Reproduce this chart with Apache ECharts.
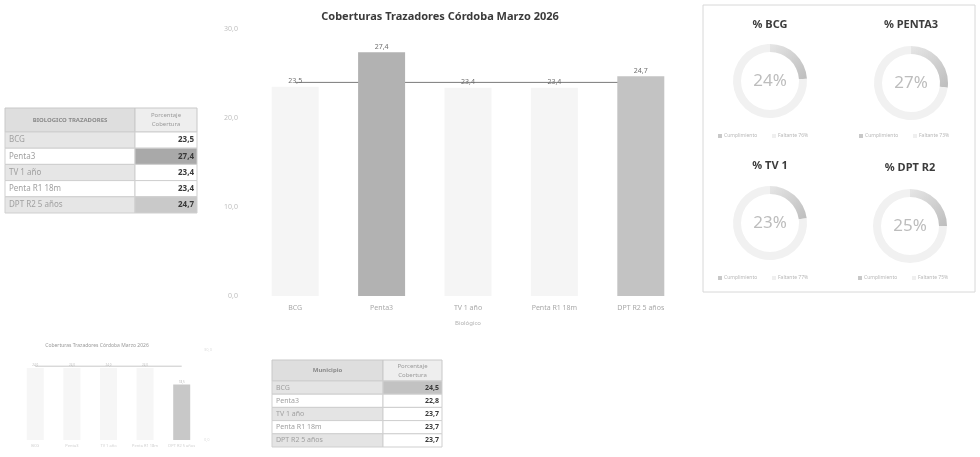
<!DOCTYPE html>
<html><head><meta charset="utf-8">
<script src="https://cdn.jsdelivr.net/npm/echarts@6/dist/echarts.min.js"></script>
<style>html,body{margin:0;padding:0;background:#fff}#c{width:980px;height:457px}</style>
</head><body><div id="c"></div>
<script>
// ---- data ----
const categories = ['BCG', 'Penta3', 'TV 1 año', 'Penta R1 18m', 'DPT R2 5 años'];
const coverage = [23.5, 27.4, 23.4, 23.4, 24.7];
const referenceLine = [24.0, 24.0, 24.0, 24.0, 24.0];
const gaugeTitles = ['% BCG', '% PENTA3', '% TV 1', '% DPT R2'];
const gaugeValues = [24, 27, 23, 25];
const gaugeLegend = ['Cumplimiento', 'Faltante'];
const miniValues = [24.0, 24.0, 24.0, 24.0, 18.5];
const miniLine = [24.6, 24.6, 24.6, 24.6, 24.6];
const table1Header = ['BIOLOGICO TRAZADORES', 'Porcentaje\nCobertura'];
const table2Header = ['Municipio', 'Porcentaje\nCobertura'];
const municipioValues = [24.5, 22.8, 23.7, 23.7, 23.7];
const mainTitle = 'Coberturas Trazadores Córdoba Marzo 2026';
const miniTitle = 'Coberturas Trazadores Córdoba Marzo 2026';
const axisName = 'Biológico';

// ---- helpers ----
const FONT = 'Noto Sans';
const fmt = v => v.toFixed(1).replace('.', ',');

function buildTable(x0, xs, x1, y0, hh, rh, header, labels, values, labelBg, valueBg, fs) {
  const els = [];
  els.push({type:'rect', shape:{x:x0, y:y0, width:xs-x0, height:hh}, style:{fill:'#dedede', stroke:'#c8c8c8', lineWidth:1}});
  els.push({type:'rect', shape:{x:xs, y:y0, width:x1-xs, height:hh}, style:{fill:'#eeeeee', stroke:'#c8c8c8', lineWidth:1}});
  els.push({type:'text', x:(x0+xs)/2, y:y0+hh/2, style:{text:header[0], fill:'#8a8a8a', font:'bold 6px '+FONT, align:'center', verticalAlign:'middle'}});
  els.push({type:'text', x:(xs+x1)/2, y:y0+hh/2, style:{text:header[1], fill:'#9a9a9a', font:'6px '+FONT, align:'center', verticalAlign:'middle', lineHeight:9}});
  labels.forEach((lab, i) => {
    const y = y0 + hh + i*rh;
    els.push({type:'rect', shape:{x:x0, y:y, width:xs-x0, height:rh}, style:{fill:labelBg(i), stroke:'#cfcfcf', lineWidth:1}});
    els.push({type:'rect', shape:{x:xs, y:y, width:x1-xs, height:rh}, style:{fill:valueBg(i), stroke:'#cfcfcf', lineWidth:1}});
    els.push({type:'text', x:x0+4, y:y+rh/2, style:{text:lab, fill:'#a0a0a0', font:fs+'px '+FONT, align:'left', verticalAlign:'middle'}});
    els.push({type:'text', x:x1-3, y:y+rh/2, style:{text:fmt(values[i]), fill:'#3a3a3a', font:'bold '+fs+'px '+FONT, align:'right', verticalAlign:'middle'}});
  });
  return els;
}

const graphics = [];
// gauge panel border
graphics.push({type:'rect', shape:{x:703, y:5, width:272, height:287}, style:{fill:'none', stroke:'#d8d8d8', lineWidth:1}});
// tables
graphics.push(...buildTable(5, 135, 197, 108, 24, 16.2, table1Header, categories, coverage,
  i => (i % 2 === 0 ? '#e6e6e6' : '#ffffff'),
  i => (i === 1 ? '#a9a9a9' : (i === 4 ? '#c9c9c9' : '#ffffff')), 8));
graphics.push(...buildTable(272, 383, 442, 360, 21, 13.2, table2Header, categories, municipioValues,
  i => (i % 2 === 0 ? '#e4e4e4' : '#ffffff'),
  i => (i === 0 ? '#c2c2c2' : '#ffffff'), 7));

// gauges
const gaugeCenters = [[770, 81], [911, 83], [770, 223], [910, 226]];
const gaugeTitleY = [25, 25, 166, 168];
const gaugeLegendY = [136, 136, 278, 278];
const pieSeries = [];
gaugeValues.forEach((v, k) => {
  const [cx, cy] = gaugeCenters[k];
  graphics.push({type:'text', x:cx, y:gaugeTitleY[k], style:{text:gaugeTitles[k], fill:'#3c3c3c', font:'bold 11px '+FONT, align:'center', verticalAlign:'middle'}});
  graphics.push({type:'rect', shape:{x:cx-52, y:gaugeLegendY[k]-2, width:4, height:4}, style:{fill:'#c8c8c8'}});
  graphics.push({type:'text', x:cx-46, y:gaugeLegendY[k], style:{text:gaugeLegend[0], fill:'#b8b8b8', font:'5px '+FONT, align:'left', verticalAlign:'middle'}});
  graphics.push({type:'rect', shape:{x:cx+2, y:gaugeLegendY[k]-2, width:4, height:4}, style:{fill:'#efefef'}});
  graphics.push({type:'text', x:cx+8, y:gaugeLegendY[k], style:{text:gaugeLegend[1] + ' ' + (100 - v) + '%', fill:'#b8b8b8', font:'5px '+FONT, align:'left', verticalAlign:'middle'}});
  pieSeries.push({
    type:'pie', center:[cx, cy], radius:[29, 37], startAngle:90, clockwise:true,
    silent:true, animation:false, labelLine:{show:false},
    data:[
      {value:v, name:gaugeLegend[0], itemStyle:{color:new echarts.graphic.LinearGradient(0,0,1,1,[{offset:0,color:'#e6e6e6'},{offset:1,color:'#bdbdbd'}])},
        label:{show:true, position:'center', formatter:v+'%', color:'#bdbdbd', fontSize:17, fontFamily:FONT}},
      {value:100 - v, name:gaugeLegend[1], itemStyle:{color:'#f1f1f1'}, label:{show:false}}
    ]
  });
});

const barColor = (i) => (i === 1 ? '#b2b2b2' : (i === 4 ? '#c3c3c3' : '#f5f5f5'));

const option = {
  animation:false,
  textStyle:{fontFamily:FONT},
  title:[
    {text:mainTitle, left:435, top:6, textAlign:'center', textStyle:{fontSize:11, fontWeight:'bold', color:'#3a3a3a', fontFamily:FONT}},
    {text:miniTitle, left:92, top:338, textAlign:'center', textStyle:{fontSize:5, fontWeight:'normal', color:'#999', fontFamily:FONT}}
  ],
  grid:[
    {left:252, width:432, top:29, height:267},
    {left:17, width:183, top:350, height:90}
  ],
  xAxis:[
    {type:'category', gridIndex:0, data:categories, axisLine:{show:false}, axisTick:{show:false},
      axisLabel:{color:'#a8a8a8', fontSize:7, margin:8},
      name:axisName, nameLocation:'middle', nameGap:24, nameTextStyle:{color:'#b0b0b0', fontSize:6}},
    {type:'category', gridIndex:1, data:categories, axisLine:{show:false}, axisTick:{show:false},
      axisLabel:{color:'#d0d0d0', fontSize:4, margin:4}}
  ],
  yAxis:[
    {type:'value', gridIndex:0, min:0, max:30, interval:10, splitLine:{show:false}, axisLine:{show:false}, axisTick:{show:false},
      axisLabel:{color:'#c0c0c0', fontSize:7, margin:14, formatter:v => fmt(v)}},
    {type:'value', gridIndex:1, min:0, max:30, interval:30, position:'right', splitLine:{show:false}, axisLine:{show:false}, axisTick:{show:false},
      axisLabel:{color:'#dddddd', fontSize:4, margin:4, formatter:v => fmt(v)}}
  ],
  series:[
    {type:'bar', xAxisIndex:0, yAxisIndex:0, barWidth:47, z:2,
      data:coverage.map((v, i) => ({value:v, itemStyle:{color:barColor(i)}})),
      label:{show:true, position:'top', distance:2, fontSize:7, color:'#6e6e6e', formatter:p => fmt(p.value)}},
    {type:'line', xAxisIndex:0, yAxisIndex:0, data:referenceLine, symbol:'none', z:1,
      lineStyle:{color:'#7a7a7a', width:1}},
    {type:'bar', xAxisIndex:1, yAxisIndex:1, barWidth:17, z:2,
      data:miniValues.map((v, i) => ({value:v, itemStyle:{color:(i === 4 ? '#c8c8c8' : '#f6f6f6')}})),
      label:{show:true, position:'top', distance:1, fontSize:3, color:'#bbb', formatter:p => fmt(p.value)}},
    {type:'line', xAxisIndex:1, yAxisIndex:1, data:miniLine, symbol:'none', z:1,
      lineStyle:{color:'#c8c8c8', width:1}},
    ...pieSeries
  ],
  graphic:graphics
};

const chart = echarts.init(document.getElementById('c'), null, {renderer:'canvas'});
chart.setOption(option);
</script>
</body></html>
